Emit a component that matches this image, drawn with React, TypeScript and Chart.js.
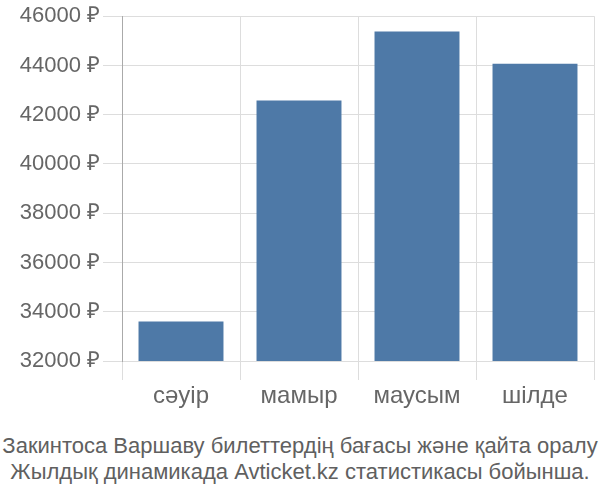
import React, { useEffect, useRef } from "react";
import Chart from "chart.js/auto";

const months = ["сәуір", "мамыр", "маусым", "шілде"];
const prices = [33600, 42580, 45380, 44070];
const yMin = 32000;
const yMax = 46000;
const yStep = 2000;
const captionLines = [
  "Закинтоса Варшаву билеттердің бағасы және қайта оралу",
  "Жылдық динамикада Avticket.kz статистикасы бойынша.",
];

const FONT = "'Liberation Sans', Arial, sans-serif";

const App: React.FC = () => {
  const canvasRef = useRef<HTMLCanvasElement | null>(null);
  const chartRef = useRef<Chart | null>(null);

  useEffect(() => {
    document.body.style.margin = "0";
    if (!canvasRef.current) return;
    const ctx = canvasRef.current.getContext("2d");
    if (!ctx) return;

    chartRef.current?.destroy();
    chartRef.current = new Chart(ctx, {
      type: "bar",
      data: {
        labels: months,
        datasets: [
          {
            data: prices,
            backgroundColor: "#4e79a7",
            barPercentage: 0.72,
            categoryPercentage: 1,
          },
        ],
      },
      options: {
        animation: false,
        responsive: false,
        layout: { padding: { top: 1, right: 6, bottom: 0, left: 0 } },
        plugins: {
          legend: { display: false },
          tooltip: { enabled: false },
        },
        scales: {
          x: {
            grid: { color: "#dddddd", offset: true, tickLength: 19 },
            border: { color: "#dddddd" },
            ticks: {
              color: "#666666",
              font: { family: FONT, size: 24 },
              padding: 2,
            },
            afterFit: (scale) => {
              scale.height = 59;
            },
          },
          y: {
            min: yMin,
            max: yMax,
            grid: { color: "#dddddd", tickLength: 19 },
            border: { color: "#aaaaaa" },
            ticks: {
              stepSize: yStep,
              color: "#666666",
              font: { family: FONT, size: 22 },
              padding: 3,
              callback: (v) => `${v} ₽`,
            },
            afterFit: (scale) => {
              scale.width = 122;
            },
          },
        },
      },
    });

    const chart = chartRef.current;
    return () => {
      chart?.destroy();
    };
  }, []);

  return (
    <div style={{ position: "relative", width: 600, height: 500, background: "#fff" }}>
      <canvas ref={canvasRef} width={600} height={420} style={{ display: "block" }} />
      <div
        style={{
          position: "absolute",
          top: 433,
          left: 0,
          width: 600,
          textAlign: "center",
          fontFamily: FONT,
          fontSize: 22,
          lineHeight: "26px",
          color: "#606060",
          whiteSpace: "nowrap",
        }}
      >
        {captionLines.map((line) => (
          <div key={line}>{line}</div>
        ))}
      </div>
    </div>
  );
};

export default App;
